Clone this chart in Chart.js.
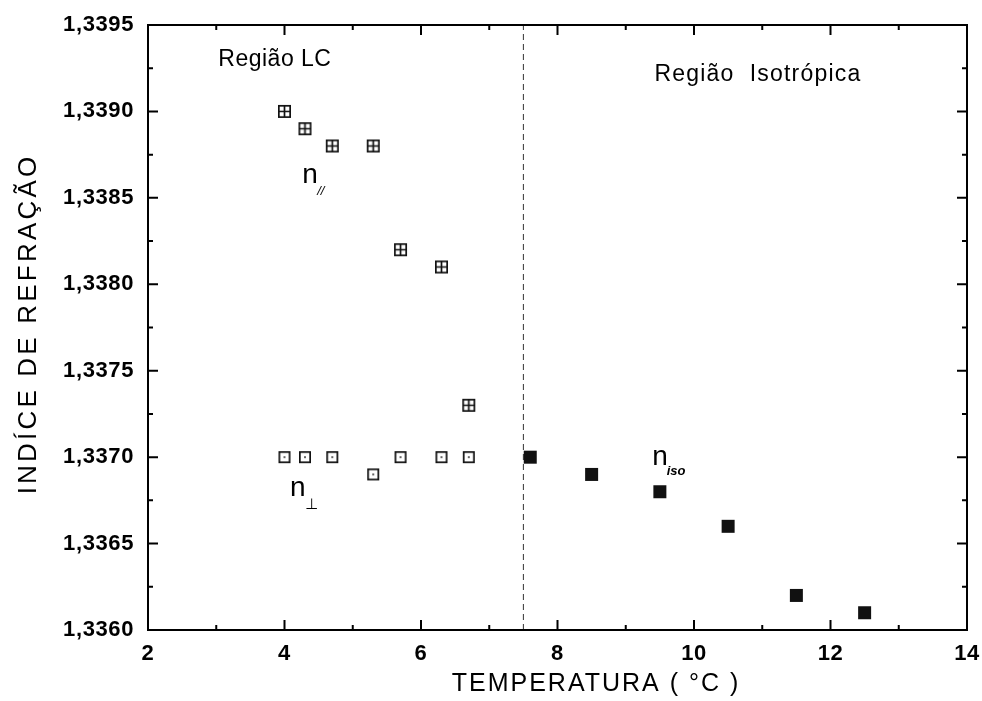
<!DOCTYPE html>
<html>
<head>
<meta charset="utf-8">
<script src="https://cdn.jsdelivr.net/npm/chart.js@4/dist/chart.umd.min.js"></script>
<style>
html,body{margin:0;padding:0;background:#fff;}
canvas{display:block;}
</style>
</head>
<body>
<canvas id="c" width="982" height="701"></canvas>
<script>
// ---- data ----
const tPar  = [4.0, 4.3, 4.7, 5.3, 5.7, 6.3, 6.7];
const nPar  = [1.3390, 1.3389, 1.3388, 1.3388, 1.3382, 1.3381, 1.3373];
const tPerp = [4.0, 4.3, 4.7, 5.3, 5.7, 6.3, 6.7];
const nPerp = [1.3370, 1.3370, 1.3370, 1.3369, 1.3370, 1.3370, 1.3370];
const tIso  = [7.6, 8.5, 9.5, 10.5, 11.5, 12.5];
const nIso  = [1.3370, 1.3369, 1.3368, 1.3366, 1.3362, 1.3361];
const boundaryT = 7.5;
const xTickValues = [2, 4, 6, 8, 10, 12, 14];
const yTickValues = [1.3360, 1.3365, 1.3370, 1.3375, 1.3380, 1.3385, 1.3390, 1.3395];
const xTitle = 'TEMPERATURA ( °C )';
const yTitle = 'INDÍCE DE REFRAÇÃO';
const regionLC = 'Região LC';
const regionIso = 'Região  Isotrópica';

// ---- marker images ----
function marker(kind, size) {
  const c = document.createElement('canvas');
  c.width = size + 2; c.height = size + 2;
  const g = c.getContext('2d');
  const o = 1, s = size;
  g.strokeStyle = '#111'; g.fillStyle = '#111'; g.lineWidth = 1.7;
  if (kind === 'filled') {
    g.fillRect(o, o, s, s);
  } else {
    g.strokeRect(o + 0.85, o + 0.85, s - 1.7, s - 1.7);
    if (kind === 'cross') {
      g.beginPath();
      g.moveTo(o + s / 2, o); g.lineTo(o + s / 2, o + s);
      g.moveTo(o, o + s / 2); g.lineTo(o + s, o + s / 2);
      g.stroke();
    } else {
      g.fillRect(o + s / 2 - 0.8, o + s / 2 - 0.8, 1.6, 1.6);
    }
  }
  return c;
}
const mCross = marker('cross', 13);
const mOpen = marker('open', 12);
const mFill = marker('filled', 13);

const toXY = (xs, ys) => xs.map((x, i) => ({x: x, y: ys[i]}));

// ---- label placement (data coordinates) ----
const notes = [
  {text: regionLC, x: 3.03, y: 1.33930, font: '23px "Liberation Sans", Arial', ls: 0.5},
  {text: regionIso, x: 9.42, y: 1.33921, font: '23px "Liberation Sans", Arial', ls: 1.2},
  {text: 'n', x: 4.26, y: 1.33863, font: '28px "Liberation Sans", Arial', ls: 0},
  {text: '//', x: 4.48, y: 1.33854, font: 'italic 13px "Liberation Sans", Arial', ls: 0},
  {text: 'n', x: 4.08, y: 1.33682, font: '28px "Liberation Sans", Arial', ls: 0},
  {text: '⊥', x: 4.30, y: 1.33672, font: '15px "DejaVu Sans", sans-serif', ls: 0},
  {text: 'n', x: 9.39, y: 1.33700, font: '28px "Liberation Sans", Arial', ls: 0},
  {text: 'iso', x: 9.60, y: 1.33692, font: 'italic bold 13px "Liberation Sans", Arial', ls: 0}
];

const framePlugin = {
  id: 'frame',
  beforeDraw(chart) { chart.ctx.letterSpacing = '0.6px'; },
  beforeDatasetsDraw(chart) { chart.ctx.letterSpacing = '0px'; },
  afterDraw(chart) {
    const ctx = chart.ctx, a = chart.chartArea;
    const xs = chart.scales.x, ys = chart.scales.y;
    ctx.save();
    ctx.letterSpacing = '0px';
    ctx.strokeStyle = '#000';
    ctx.lineWidth = 2;
    ctx.strokeRect(a.left, a.top, a.right - a.left, a.bottom - a.top);
    const MAJ = 10, MIN = 5;
    ctx.beginPath();
    const xt = xs.ticks.map(t => t.value);
    xt.forEach((v, i) => {
      const p = xs.getPixelForValue(v);
      ctx.moveTo(p, a.bottom); ctx.lineTo(p, a.bottom - MAJ);
      ctx.moveTo(p, a.top); ctx.lineTo(p, a.top + MAJ);
      if (i < xt.length - 1) {
        const q = xs.getPixelForValue((v + xt[i + 1]) / 2);
        ctx.moveTo(q, a.bottom); ctx.lineTo(q, a.bottom - MIN);
        ctx.moveTo(q, a.top); ctx.lineTo(q, a.top + MIN);
      }
    });
    const yt = ys.ticks.map(t => t.value);
    yt.forEach((v, i) => {
      const p = ys.getPixelForValue(v);
      ctx.moveTo(a.left, p); ctx.lineTo(a.left + MAJ, p);
      ctx.moveTo(a.right, p); ctx.lineTo(a.right - MAJ, p);
      if (i < yt.length - 1) {
        const q = ys.getPixelForValue((v + yt[i + 1]) / 2);
        ctx.moveTo(a.left, q); ctx.lineTo(a.left + MIN, q);
        ctx.moveTo(a.right, q); ctx.lineTo(a.right - MIN, q);
      }
    });
    ctx.stroke();

    // axis titles
    ctx.fillStyle = '#000';
    ctx.textBaseline = 'middle';
    ctx.textAlign = 'center';
    ctx.font = '25px "Liberation Sans", Arial';
    ctx.letterSpacing = '2px';
    ctx.fillText(xTitle, 596, 684);
    ctx.save();
    ctx.translate(29, 324);
    ctx.rotate(-Math.PI / 2);
    ctx.letterSpacing = '3.2px';
    ctx.font = '26px "Liberation Sans", Arial';
    ctx.fillText(yTitle, 0, 0);
    ctx.restore();

    // annotations
    ctx.textAlign = 'left';
    notes.forEach(n => {
      ctx.font = n.font;
      ctx.letterSpacing = n.ls + 'px';
      ctx.fillText(n.text, xs.getPixelForValue(n.x), ys.getPixelForValue(n.y));
    });
    ctx.restore();
  }
};

new Chart(document.getElementById('c'), {
  type: 'scatter',
  data: {
    datasets: [
      {label: 'n//', data: toXY(tPar, nPar), pointStyle: mCross, pointRadius: 7, showLine: false},
      {label: 'n⊥', data: toXY(tPerp, nPerp), pointStyle: mOpen, pointRadius: 6, showLine: false},
      {label: 'niso', data: toXY(tIso, nIso), pointStyle: mFill, pointRadius: 7, showLine: false},
      {label: 'limite', type: 'line',
       data: [{x: boundaryT, y: yTickValues[0]}, {x: boundaryT, y: yTickValues[yTickValues.length - 1]}],
       borderColor: '#333', borderWidth: 1, borderDash: [6, 4], pointRadius: 0, fill: false}
    ]
  },
  options: {
    responsive: false,
    animation: false,
    events: [],
    layout: {padding: {top: 25, right: 15, left: 0, bottom: 0}},
    plugins: {legend: {display: false}, tooltip: {enabled: false}},
    scales: {
      x: {
        type: 'linear',
        min: xTickValues[0], max: xTickValues[xTickValues.length - 1],
        grid: {display: false, drawTicks: false},
        border: {display: false},
        afterBuildTicks: s => { s.ticks = xTickValues.map(v => ({value: v})); },
        afterFit: s => { s.height = 71; s.paddingLeft = 0; s.paddingRight = 0; },
        ticks: {
          color: '#000', padding: 11,
          font: {family: '"Liberation Sans", Arial', size: 22, weight: 'bold'},
          callback: v => String(v)
        }
      },
      y: {
        type: 'linear',
        min: yTickValues[0], max: yTickValues[yTickValues.length - 1],
        grid: {display: false, drawTicks: false},
        border: {display: false},
        afterBuildTicks: s => { s.ticks = yTickValues.map(v => ({value: v})); },
        afterFit: s => { s.width = 148; s.paddingTop = 0; s.paddingBottom = 0; },
        ticks: {
          color: '#000', padding: 14,
          font: {family: '"Liberation Sans", Arial', size: 22, weight: 'bold'},
          callback: v => v.toFixed(4).replace('.', ',')
        }
      }
    }
  },
  plugins: [framePlugin]
});
</script>
</body>
</html>
